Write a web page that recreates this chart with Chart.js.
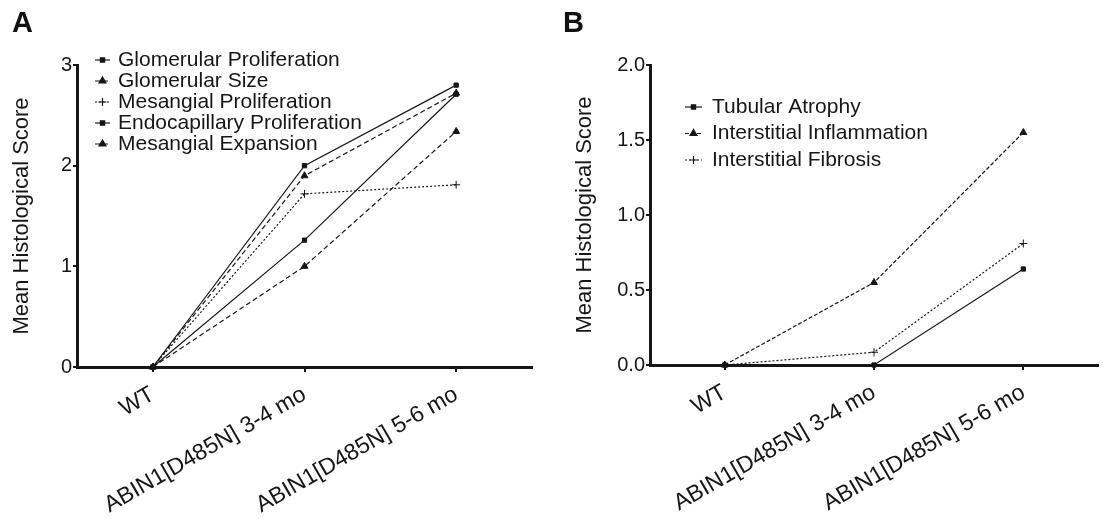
<!DOCTYPE html>
<html>
<head>
<meta charset="utf-8">
<script src="https://cdn.jsdelivr.net/npm/chart.js@4.4.0/dist/chart.umd.min.js"></script>
<style>
html,body{margin:0;padding:0;background:#fff;}
body{width:1103px;height:519px;position:relative;overflow:hidden;}
.panel{position:absolute;top:0;height:519px;}
#wrapA{left:0;width:545px;}
#wrapB{left:545px;width:558px;}
.tag{position:absolute;top:6px;font:bold 29px "Liberation Sans",Arial,sans-serif;color:#111;}
</style>
</head>
<body>
<div class="panel" id="wrapA"><canvas id="chartA"></canvas></div>
<div class="panel" id="wrapB"><canvas id="chartB"></canvas></div>
<div class="tag" style="left:12px">A</div>
<div class="tag" style="left:563px">B</div>
<script>
// ===== data =====
const groups = ['WT', 'ABIN1[D485N] 3-4 mo', 'ABIN1[D485N] 5-6 mo'];
const glomProlif   = [0, 2.00, 2.80];
const glomSize     = [0, 1.90, 2.72];
const mesProlif    = [0, 1.72, 1.81];
const endoProlif   = [0, 1.26, 2.71];
const mesExpansion = [0, 1.00, 2.34];
const tubAtrophy   = [0, 0,    0.64];
const intInflam    = [0, 0.55, 1.55];
const intFibrosis  = [0, 0.085, 0.81];
const yTicksA = [0, 1, 2, 3];
const yTicksB = [0, 0.5, 1, 1.5, 2];

const INK = '#161616';
const FAM = '"Liberation Sans", Arial, sans-serif';
const SOLID = [], DASH = [5, 3], DOT = [2, 2];

function series(label, data, dash, style, r){
  return {label, data, borderColor: INK, backgroundColor: INK, borderWidth: 1.2,
    borderDash: dash, pointStyle: style, pointRadius: r, pointHoverRadius: r,
    pointBorderWidth: 1, tension: 0, clip: false};
}

// legend drawn inside the plot area, line sample + marker + text
const insideLegend = {
  id: 'insideLegend',
  afterDraw(chart, args, o){
    const ctx = chart.ctx;
    ctx.save();
    chart.data.datasets.forEach((ds, i) => {
      const y = o.y + i*o.gap;
      ctx.strokeStyle = INK; ctx.fillStyle = INK; ctx.lineWidth = 1.2;
      ctx.setLineDash(ds.borderDash);
      ctx.beginPath(); ctx.moveTo(o.x, y); ctx.lineTo(o.x + o.len, y); ctx.stroke();
      ctx.setLineDash([]);
      Chart.helpers.drawPoint(ctx, {pointStyle: ds.pointStyle, radius: ds.pointRadius, borderWidth: 1, rotation: 0}, o.x + o.len/2, y);
      ctx.font = '21px ' + FAM; ctx.textBaseline = 'middle'; ctx.textAlign = 'left';
      ctx.fillText(ds.label, o.x + o.len + o.textGap, y);
    });
    ctx.restore();
  }
};

function makeOpts(yTicks, yMax, yWidth, titlePad, pad, legend, fmt){
  return {
    responsive: true, maintainAspectRatio: false, animation: false,
    layout: {padding: pad},
    plugins: {legend: {display: false}, tooltip: {enabled: false}, insideLegend: legend},
    scales: {
      x: {
        type: 'category', offset: true,
        grid: {display: true, drawOnChartArea: false, drawTicks: true, tickLength: 5, lineWidth: 2, color: INK, offset: false},
        border: {display: true, width: 3, color: INK},
        ticks: {color: INK, font: {family: FAM, size: 23}, minRotation: 30, maxRotation: 30, padding: 9, autoSkip: false},
        afterFit(s){ s.height = 152; s.paddingLeft = 0; s.paddingRight = 0; }
      },
      y: {
        min: 0, max: yMax,
        grid: {display: true, drawOnChartArea: false, drawTicks: true, tickLength: 4, lineWidth: 2, color: INK},
        border: {display: true, width: 3, color: INK},
        ticks: {color: INK, font: {family: FAM, size: 20}, padding: 1, callback: fmt},
        afterBuildTicks(s){ s.ticks = yTicks.map(v => ({value: v})); },
        title: {display: true, text: 'Mean Histological Score', color: INK, font: {family: FAM, size: 22}, padding: {top: titlePad, bottom: 0}},
        afterFit(s){ s.width = yWidth; s.paddingTop = 0; s.paddingBottom = 0; }
      }
    }
  };
}

new Chart(document.getElementById('chartA'), {
  type: 'line',
  data: {labels: groups, datasets: [
    series('Glomerular Proliferation', glomProlif, SOLID, 'rect', 3),
    series('Glomerular Size', glomSize, DASH, 'triangle', 4),
    series('Mesangial Proliferation', mesProlif, DOT, 'cross', 4),
    series('Endocapillary Proliferation', endoProlif, SOLID, 'rect', 3),
    series('Mesangial Expansion', mesExpansion, DASH, 'triangle', 4)
  ]},
  options: makeOpts(yTicksA, 3, 77, 9, {top: 65, right: 13, left: 0, bottom: 0},
    {x: 95, y: 60, gap: 21, len: 15, textGap: 8}, v => v),
  plugins: [insideLegend]
});

new Chart(document.getElementById('chartB'), {
  type: 'line',
  data: {labels: groups, datasets: [
    series('Tubular Atrophy', tubAtrophy, SOLID, 'rect', 3),
    series('Interstitial Inflammation', intInflam, [4, 2], 'triangle', 4),
    series('Interstitial Fibrosis', intFibrosis, DOT, 'cross', 4)
  ]},
  options: makeOpts(yTicksB, 2, 105, 27, {top: 65, right: 0, left: 0, bottom: 2},
    {x: 140, y: 107, gap: 26.5, len: 17, textGap: 10}, v => v.toFixed(1)),
  plugins: [insideLegend]
});
</script>
</body>
</html>
